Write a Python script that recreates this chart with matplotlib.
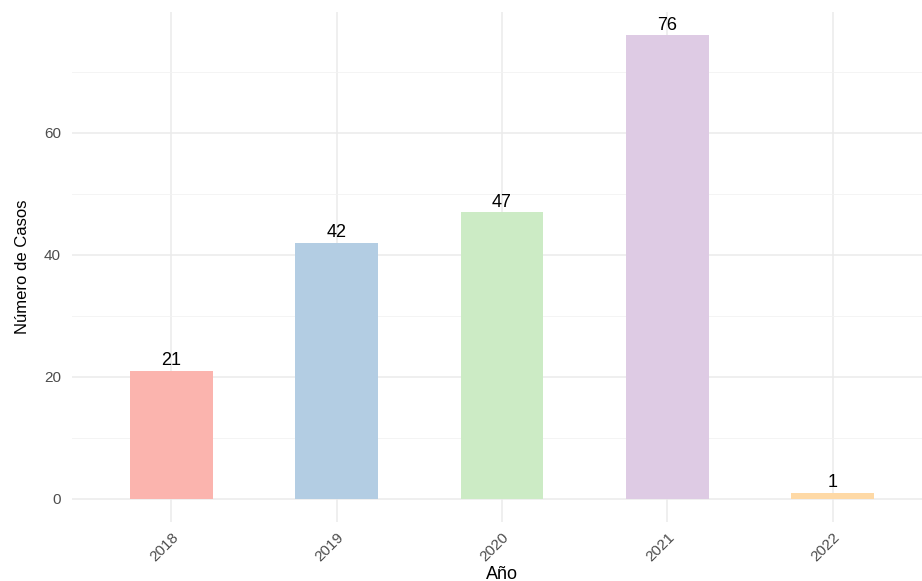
import numpy as np
import matplotlib.pyplot as plt
import matplotlib.ticker as ticker

years = ['2018', '2019', '2020', '2021', '2022']
cases = [21, 42, 47, 76, 1]
colors = ['#FBB4AE', '#B3CDE3', '#CCEBC5', '#DECBE4', '#FED9A6']

plt.rcParams['font.family'] = ['Liberation Sans', 'DejaVu Sans']

fig = plt.figure(figsize=(9.22, 5.81), dpi=100)
# panel runs slightly past the right edge of the canvas
axes = fig.add_axes([72 / 922, 59 / 581, 860 / 922, 510 / 581])

x = np.arange(1, len(years) + 1)
axes.bar(x, cases, width=0.5, color=colors, zorder=2)
for xi, v in zip(x, cases):
    axes.text(xi, v + 0.2, str(v), ha='center', va='bottom', fontsize=13, color='black', zorder=3)

axes.set_xlim(0.4, 5.6)
axes.set_ylim(-3.8, 79.8)
axes.set_xticks(x)
axes.set_xticklabels(years, rotation=45, ha='right', rotation_mode='anchor')
axes.yaxis.set_major_locator(ticker.MultipleLocator(20))
axes.yaxis.set_minor_locator(ticker.MultipleLocator(10))

axes.grid(axis='y', which='major', color='#EBEBEB', linewidth=1.1, zorder=0)
axes.grid(axis='y', which='minor', color='#F2F2F2', linewidth=0.6, zorder=0)
axes.grid(axis='x', which='major', color='#EBEBEB', linewidth=1.1, zorder=0)
for s in axes.spines.values():
    s.set_visible(False)
axes.tick_params(axis='both', which='both', length=0, labelsize=11, labelcolor='#4D4D4D')
axes.tick_params(axis='y', pad=8)
axes.tick_params(axis='x', pad=6)

axes.set_xlabel('Año', fontsize=13, color='black', labelpad=1)
axes.set_ylabel('Número de Casos', fontsize=12, color='black', labelpad=10)

fig.savefig('out.png', dpi=100)
